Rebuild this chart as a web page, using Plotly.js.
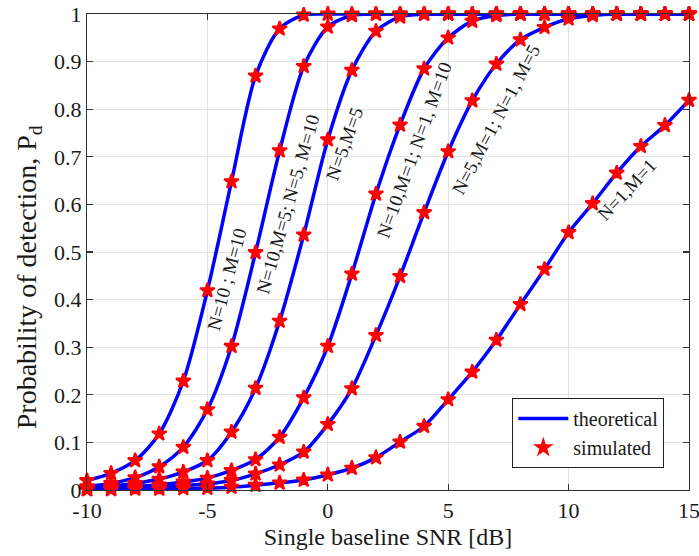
<!DOCTYPE html>
<html>
<head>
<meta charset="utf-8">
<script src="https://cdn.plot.ly/plotly-3.0.1.min.js"></script>
<style>html,body{margin:0;padding:0;background:#fff;}#chart{width:699px;height:556px;}</style>
</head>
<body>
<div id="chart"></div>
<script>
// SNR values [dB]
const snr = [-10,-9,-8,-7,-6,-5,-4,-3,-2,-1,0,1,2,3,4,5,6,7,8,9,10,11,12,13,14,15];

// Probability of detection for each configuration
const pdN10M10 = [0.020,0.035,0.062,0.118,0.229,0.419,0.648,0.870,0.969,0.998,1,1,1,1,1,1,1,1,1,1,1,1,1,1,1,1];
const pdN10M5  = [0.007,0.014,0.026,0.049,0.090,0.169,0.302,0.499,0.713,0.890,0.973,0.997,1,1,1,1,1,1,1,1,1,1,1,1,1,1];
const pdN5M5   = [0.004,0.008,0.014,0.023,0.038,0.062,0.122,0.214,0.355,0.536,0.736,0.882,0.964,0.994,1,1,1,1,1,1,1,1,1,1,1,1];
const pdN10M1  = [0.002,0.004,0.007,0.011,0.017,0.025,0.041,0.064,0.111,0.194,0.302,0.454,0.622,0.767,0.885,0.950,0.985,0.997,1,1,1,1,1,1,1,1];
const pdN5M1   = [0.001,0.002,0.004,0.006,0.009,0.013,0.020,0.034,0.053,0.080,0.138,0.213,0.325,0.449,0.583,0.711,0.818,0.895,0.946,0.972,0.990,0.997,1,1,1,1];
const pdN1M1   = [0.001,0.001,0.002,0.002,0.003,0.004,0.006,0.010,0.015,0.021,0.032,0.046,0.068,0.101,0.134,0.190,0.248,0.315,0.390,0.464,0.541,0.602,0.666,0.722,0.766,0.819];

const series = [pdN10M10, pdN10M5, pdN5M5, pdN10M1, pdN5M1, pdN1M1];
const curveLabels = ["N=10 ; M=10", "N=10,M=5; N=5, M=10", "N=5,M=5", "N=10,M=1; N=1, M=10", "N=5,M=1; N=1, M=5", "N=1,M=1"];
const legendNames = ["theoretical", "simulated"];

const xTicks = [-10,-5,0,5,10,15];
const xTickText = ["-10","-5","0","5","10","15"];
const yTicks = [0,0.1,0.2,0.3,0.4,0.5,0.6,0.7,0.8,0.9,1];
const yTickText = ["0","0.1","0.2","0.3","0.4","0.5","0.6","0.7","0.8","0.9","1"];

const xTitle = 'Single baseline SNR [dB]';
const yTitle = 'Probability of detection, P<sub>d</sub>';

const SERIF = 'Liberation Serif';

const traces = [];
series.forEach((ys, i) => {
  traces.push({
    x: snr, y: ys, type: 'scatter', mode: 'lines',
    line: {color: '#0000ff', width: 3.5, shape: 'spline', smoothing: 0.8},
    name: legendNames[0], showlegend: i === 0, legendrank: 1,
    hoverinfo: 'skip'
  });
});
series.forEach((ys, i) => {
  traces.push({
    x: snr, y: ys, type: 'scatter', mode: 'markers',
    marker: {symbol: 'star', size: 11, color: '#ff0000', line: {color: '#ff0000', width: 2}},
    name: legendNames[1], showlegend: i === 0, legendrank: 2,
    cliponaxis: false
  });
});

const annPos = [
  {x: -4.21, y: 0.443, a: -75},
  {x: -1.65, y: 0.599, a: -74},
  {x: 0.71,  y: 0.727, a: -70},
  {x: 3.58,  y: 0.713, a: -70},
  {x: 6.99,  y: 0.778, a: -62},
  {x: 12.43, y: 0.631, a: -47}
];
const annotations = curveLabels.map((t, i) => ({
  x: annPos[i].x, y: annPos[i].y, xref: 'x', yref: 'y',
  text: t, showarrow: false, textangle: annPos[i].a,
  font: {family: SERIF, size: 19, color: '#1a1a1a'}
}));
// y-axis title drawn as rotated annotation so it can sit where the reference puts it
annotations.push({
  x: -0.098, y: 0.447, xref: 'paper', yref: 'paper',
  xanchor: 'center', yanchor: 'middle',
  text: yTitle, showarrow: false, textangle: -90,
  font: {family: SERIF, size: 28, color: '#1a1a1a'}
});

const axisCommon = {
  showline: true, linecolor: '#333333', linewidth: 1.2, mirror: 'ticks',
  ticks: 'inside', ticklen: 6, tickcolor: '#333333', tickwidth: 1.2,
  showgrid: true, gridcolor: '#e2e2e2', gridwidth: 1, zeroline: false,
  ticklabeloverflow: 'allow',
  tickfont: {family: SERIF, size: 22, color: '#1a1a1a'}
};

const layout = {
  width: 699, height: 556,
  font: {family: SERIF, color: '#1a1a1a'},
  margin: {l: 87, r: 10, t: 14, b: 66},
  paper_bgcolor: '#ffffff', plot_bgcolor: '#ffffff',
  xaxis: Object.assign({}, axisCommon, {
    range: [-10, 15], tickmode: 'array', tickvals: xTicks, ticktext: xTickText,
    title: {text: xTitle, standoff: 6,
      font: {family: SERIF, size: 24, color: '#1a1a1a'}}
  }),
  yaxis: Object.assign({}, axisCommon, {
    range: [0, 1], tickmode: 'array', tickvals: yTicks, ticktext: yTickText
  }),
  legend: {
    x: 0.959, y: 0.046, xanchor: 'right', yanchor: 'bottom',
    bgcolor: '#ffffff', bordercolor: '#222222', borderwidth: 1,
    font: {family: SERIF, size: 20, color: '#1a1a1a'},
    itemwidth: 50, tracegroupgap: 0
  },
  annotations: annotations,
  showlegend: true
};

Plotly.newPlot('chart', traces, layout, {displayModeBar: false, staticPlot: true});
</script>
</body>
</html>
